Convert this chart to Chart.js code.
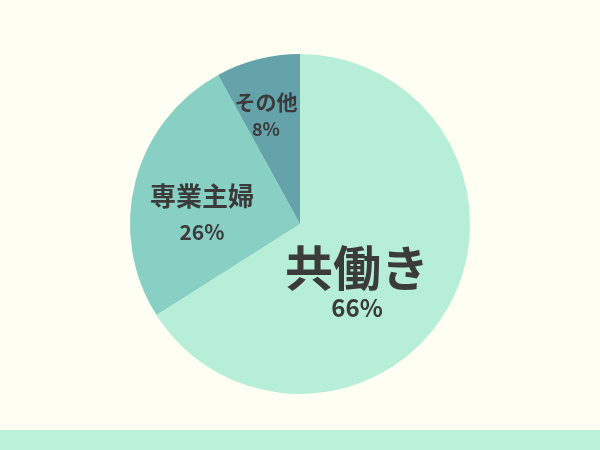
<!DOCTYPE html>
<html>
<head>
<meta charset="utf-8">
<script src="https://cdn.jsdelivr.net/npm/chart.js@4"></script>
<style>
  html, body { margin: 0; padding: 0; background: #fffef3; }
  #wrap { width: 600px; height: 430px; position: relative; }
  #band { width: 600px; height: 20px; background: #bcf1d9; }
</style>
</head>
<body>
<div id="wrap"><canvas id="pieCanvas"></canvas></div>
<div id="band"></div>
<script>
// data
const categories = ['共働き', '専業主婦', 'その他'];
const shares = [66, 26, 8];

// slice colours
const sliceColors = ['#b6eed8', '#88cfc4', '#64a3aa'];

// label look: [name font px, pct font px, radius fraction, angle tweak (deg), gap between lines]
const labelStyle = [
    [48, 24, 0.424, 8.9, 40],
    [26, 21, 0.60, 1.6, 36],
    [21, 18, 0.745, -1.2, 27]
];

const FONT = '"Noto Sans CJK JP", "Noto Sans", sans-serif';

const sliceLabels = {
    id: 'sliceLabels',
    afterDatasetsDraw(chart) {
        const ctx = chart.ctx;
        const meta = chart.getDatasetMeta(0);
        ctx.save();
        ctx.fillStyle = '#3b3b3b';
        ctx.textAlign = 'center';
        ctx.textBaseline = 'middle';
        meta.data.forEach((arc, i) => {
            const p = arc.getProps(['x', 'y', 'startAngle', 'endAngle', 'outerRadius'], true);
            const s = labelStyle[i];
            const mid = (p.startAngle + p.endAngle) / 2 + s[3] * Math.PI / 180;
            const r = p.outerRadius * s[2];
            const x = p.x + Math.cos(mid) * r;
            const y = p.y + Math.sin(mid) * r;
            ctx.font = `bold ${s[0]}px ${FONT}`;
            ctx.fillText(categories[i], x, y);
            ctx.font = `bold ${s[1]}px ${FONT}`;
            ctx.fillText(shares[i] + '%', x, y + s[4]);
        });
        ctx.restore();
    }
};

new Chart(document.getElementById('pieCanvas'), {
    type: 'pie',
    data: {
        labels: categories,
        datasets: [{
            data: shares,
            backgroundColor: sliceColors,
            borderWidth: 0
        }]
    },
    options: {
        responsive: true,
        maintainAspectRatio: false,
        animation: false,
        layout: { padding: { top: 54, bottom: 36 } },
        plugins: {
            legend: { display: false },
            tooltip: { enabled: false }
        }
    },
    plugins: [sliceLabels]
});
</script>
</body>
</html>
